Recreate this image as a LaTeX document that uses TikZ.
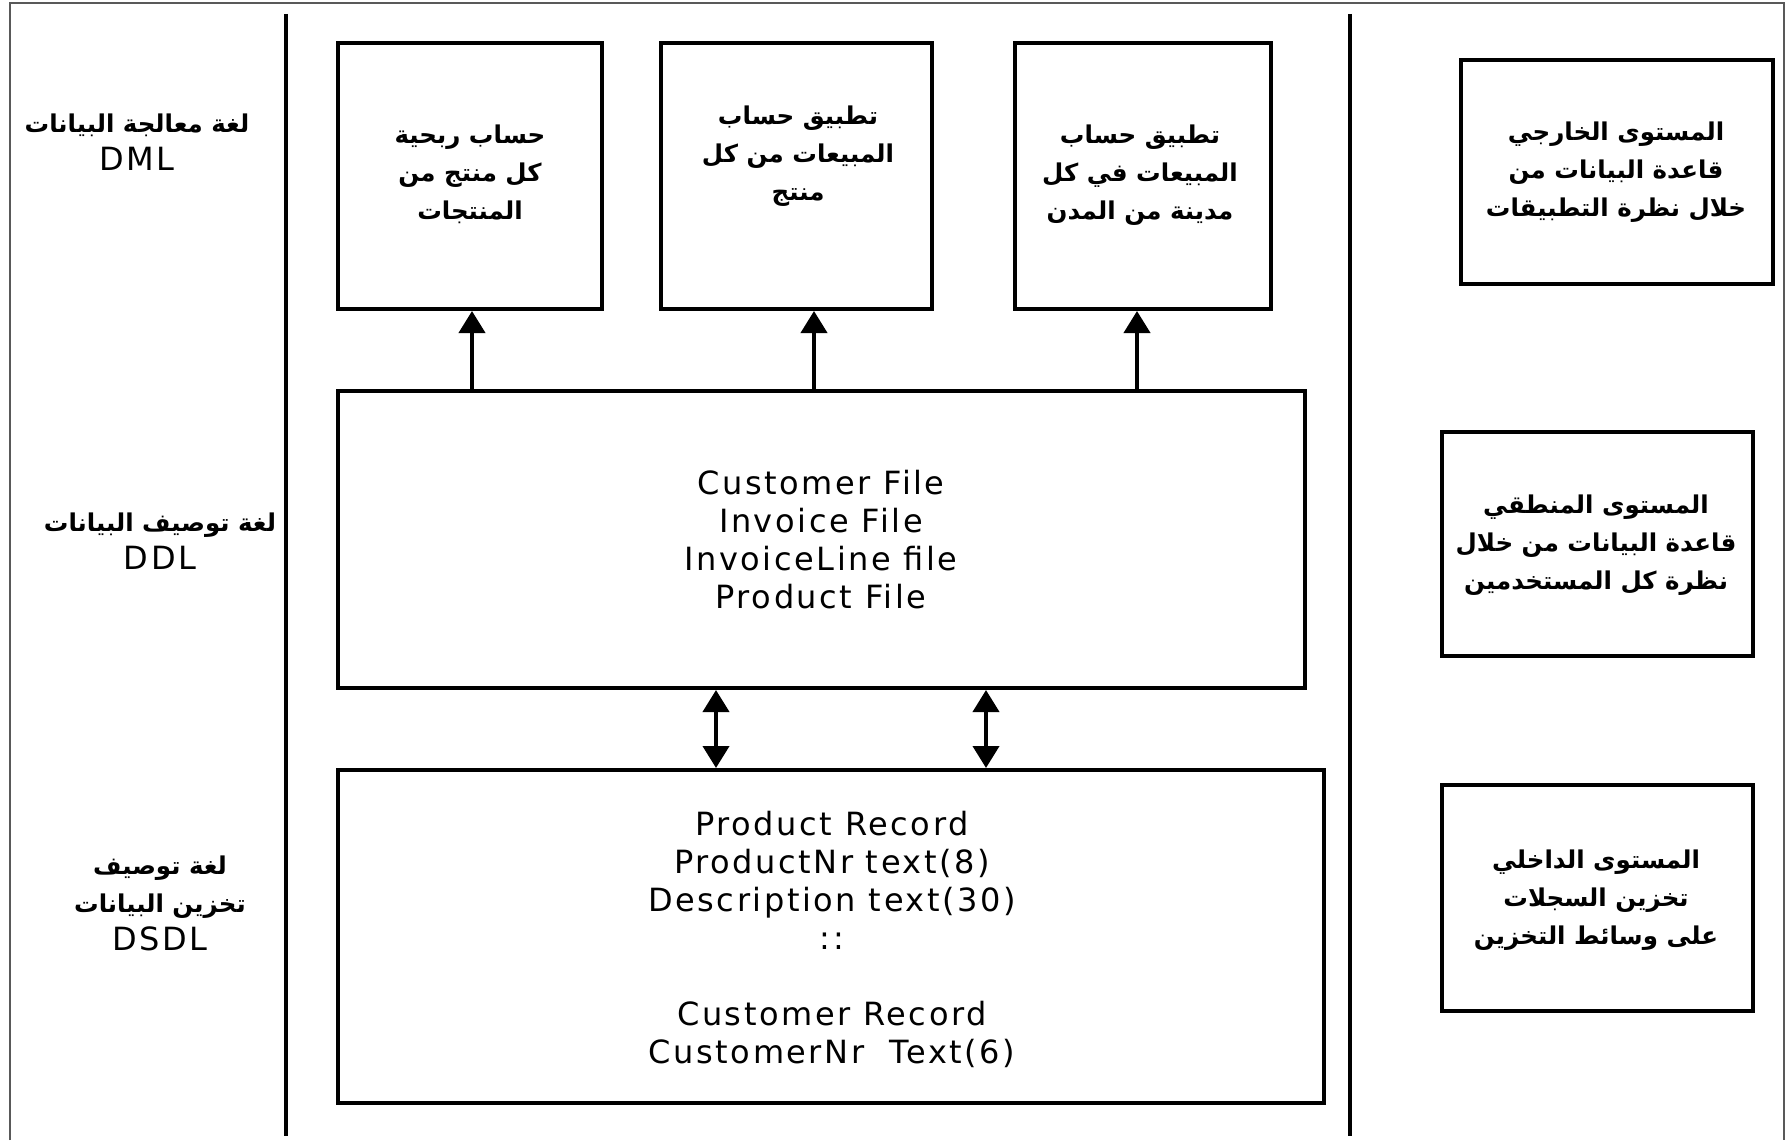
\documentclass[tikz,border=0pt]{standalone}
\usepackage{fontspec}
\setmainfont{DejaVu Sans}[LetterSpace=8]
\newfontfamily\arabicfont[Script=Arabic]{DejaVu Sans}
\TeXXeTstate=1
\usetikzlibrary{arrows.meta}
\newcommand\artxt[1]{{\arabicfont\bfseries\fontsize{24.5}{38.5}\selectfont\beginR #1\endR}}
\begin{document}
\begin{tikzpicture}[x=1pt,y=-1pt,
 box/.style={draw,line width=4pt,inner sep=0pt},
 lat/.style={font=\fontsize{32}{38}\selectfont, align=center, inner sep=0pt},
 conn/.style={line width=4pt, -{Triangle[width=26pt,length=22pt]}},
 dconn/.style={line width=4pt, {Triangle[width=26pt,length=22pt]}-{Triangle[width=26pt,length=22pt]}}]
\useasboundingbox (0,0) rectangle (1787,1140);
\draw[gray!70!black, line width=2pt] (10,1140) -- (10,3) -- (1784,3) -- (1784,1140);

% boxes
\node[box, minimum width=264pt, minimum height=266pt] (a1) at (470,176) {};
\node[box, minimum width=271pt, minimum height=266pt] (a2) at (796.5,176) {};
\node[box, minimum width=256pt, minimum height=266pt] (a3) at (1143,176) {};
\node[box, minimum width=967pt, minimum height=297pt] (mid) at (821.5,539.5) {};
\node[box, minimum width=986pt, minimum height=333pt] (bot) at (831,936.5) {};
\node[box, minimum width=312pt, minimum height=224pt] (r1) at (1617,172) {};
\node[box, minimum width=311pt, minimum height=224pt] (r2) at (1597.5,544) {};
\node[box, minimum width=311pt, minimum height=226pt] (r3) at (1597.5,898) {};

% texts
\node[lat] (t1) at (470,174) {\artxt{حساب ربحية}\\ \artxt{كل منتج من}\\ \artxt{المنتجات}};
\node[lat] (t2) at (798,156) {\artxt{تطبيق حساب}\\ \artxt{المبيعات من كل}\\ \artxt{منتج}};
\node[lat] (t3) at (1140,175) {\artxt{تطبيق حساب}\\ \artxt{المبيعات في كل}\\ \artxt{مدينة من المدن}};
\node[lat] (tr1) at (1616,172) {\artxt{المستوى الخارجي}\\ \artxt{قاعدة البيانات من}\\ \artxt{خلال نظرة التطبيقات}};
\node[lat] (tr2) at (1596,545) {\artxt{المستوى المنطقي}\\ \artxt{قاعدة البيانات من خلال}\\ \artxt{نظرة كل المستخدمين}};
\node[lat] (tr3) at (1596,900) {\artxt{المستوى الداخلي}\\ \artxt{تخزين السجلات}\\ \artxt{على وسائط التخزين}};

\node[lat] (tm) at (821,540) {Customer File\\ Invoice File\\ InvoiceLine file\\ Product File};
\node[lat] (tb) at (832,939) {Product Record\\ ProductNr text(8)\\ Description text(30)\\ ::\\[38pt] Customer Record\\ CustomerNr\ \ Text(6)};

\node[lat] (l1) at (137,142) {\artxt{لغة معالجة البيانات}\\ DML};
\node[lat] (l2) at (160,541) {\artxt{لغة توصيف البيانات}\\ DDL};
\node[lat] (l3) at (160,903) {\artxt{لغة توصيف}\\ \artxt{تخزين البيانات}\\ DSDL};

% separators
\draw[line width=4pt] (286,14) -- (286,1136);
\draw[line width=4pt] (1350,14) -- (1350,1136);

% connectors
\coordinate (x1) at (472,0);
\coordinate (x2) at (814,0);
\coordinate (x3) at (1137,0);
\coordinate (x4) at (716,0);
\coordinate (x5) at (986,0);
\draw[conn] (mid.north -| x1) -- (a1.south -| x1);
\draw[conn] (mid.north -| x2) -- (a2.south -| x2);
\draw[conn] (mid.north -| x3) -- (a3.south -| x3);
\draw[dconn] (mid.south -| x4) -- (bot.north -| x4);
\draw[dconn] (mid.south -| x5) -- (bot.north -| x5);
\end{tikzpicture}
\end{document}
